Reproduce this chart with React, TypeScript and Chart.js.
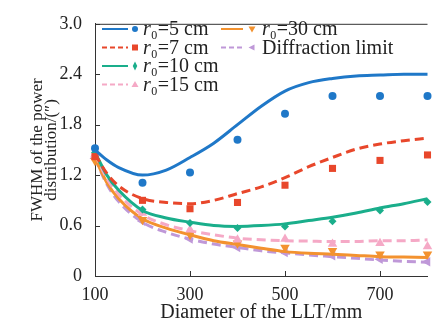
import React, { useEffect, useRef } from "react";
import { Chart, registerables } from "chart.js";

Chart.register(...registerables);

// ---- data ----
const curveX = [100, 125, 150, 200, 250, 300, 350, 400, 450, 500, 550, 600, 650, 700, 750, 800];
const curveR5 = [1.50, 1.38, 1.29, 1.20, 1.26, 1.41, 1.58, 1.80, 2.02, 2.20, 2.30, 2.35, 2.38, 2.39, 2.40, 2.40];
const curveR7 = [1.45, 1.22, 1.07, 0.92, 0.875, 0.86, 0.90, 0.98, 1.06, 1.17, 1.30, 1.41, 1.51, 1.57, 1.61, 1.64];
const curveR10 = [1.47, 1.20, 1.02, 0.78, 0.69, 0.64, 0.60, 0.59, 0.60, 0.62, 0.66, 0.70, 0.75, 0.81, 0.86, 0.92];
const curveR15 = [1.45, 1.16, 0.97, 0.73, 0.61, 0.54, 0.49, 0.45, 0.43, 0.42, 0.415, 0.41, 0.41, 0.42, 0.42, 0.43];
const curveR30 = [1.40, 1.11, 0.92, 0.68, 0.57, 0.49, 0.42, 0.375, 0.33, 0.29, 0.27, 0.26, 0.245, 0.23, 0.225, 0.22];
const curveDL = [1.40, 1.09, 0.885, 0.64, 0.52, 0.44, 0.38, 0.34, 0.30, 0.275, 0.25, 0.23, 0.21, 0.19, 0.175, 0.165];

const pointX = [100, 200, 300, 400, 500, 600, 700, 800];
const ptsR5 = [1.52, 1.11, 1.23, 1.62, 1.93, 2.14, 2.14, 2.14];
const ptsR7 = [1.42, 0.90, 0.80, 0.875, 1.08, 1.28, 1.375, 1.44];
const ptsR10 = [1.47, 0.79, 0.63, 0.57, 0.59, 0.65, 0.78, 0.88];
const ptsR15 = [1.45, 0.75, 0.55, 0.43, 0.44, 0.38, 0.39, 0.35];
const ptsR30 = [1.37, 0.67, 0.49, 0.39, 0.34, 0.30, 0.26, 0.26];
const ptsDL = [1.40, 0.65, 0.44, 0.34, 0.28, 0.24, 0.20, 0.17];

const xTicks = [100, 300, 500, 700];
const yTicks = [0, 0.6, 1.2, 1.8, 2.4, 3.0];

const xTitle = "Diameter of the LLT/mm";
const yTitle = ["FWHM of the power", "distribution/(\u2033)"];

const legendItems = [
  { r: true, text: "=5 cm" },
  { r: true, text: "=7 cm" },
  { r: true, text: "=10 cm" },
  { r: true, text: "=15 cm" },
  { r: true, text: "=30 cm" },
  { r: false, text: "Diffraction limit" },
];

const COLORS = ["#1f78c8", "#e8472b", "#1aae8b", "#f5a9c6", "#f3922f", "#bf98d8"];
const DASHED = [false, true, false, true, false, true];
const SHAPES = ["circle", "rect", "rectRot", "triangle", "triangle", "triangle"];
const ROTS = [0, 0, 0, 0, 180, -90];
const RADII = [4, 5, 4, 5.5, 5.5, 5.5];

const curves = [curveR5, curveR7, curveR10, curveR15, curveR30, curveDL];
const points = [ptsR5, ptsR7, ptsR10, ptsR15, ptsR30, ptsDL];

const SERIF = "'Liberation Serif', 'Times New Roman', serif";

function drawMarker(ctx: CanvasRenderingContext2D, i: number, x: number, y: number, s: number) {
  ctx.save();
  ctx.fillStyle = COLORS[i];
  ctx.beginPath();
  if (i === 0) {
    ctx.arc(x, y, s * 0.6, 0, Math.PI * 2);
  } else if (i === 1) {
    ctx.rect(x - s * 0.6, y - s * 0.6, s * 1.2, s * 1.2);
  } else if (i === 2) {
    ctx.moveTo(x, y - s * 0.9);
    ctx.lineTo(x + s * 0.45, y);
    ctx.lineTo(x, y + s * 0.9);
    ctx.lineTo(x - s * 0.45, y);
    ctx.closePath();
  } else if (i === 3) {
    ctx.moveTo(x, y - s * 0.7);
    ctx.lineTo(x + s * 0.7, y + s * 0.5);
    ctx.lineTo(x - s * 0.7, y + s * 0.5);
    ctx.closePath();
  } else if (i === 4) {
    ctx.moveTo(x, y + s * 0.7);
    ctx.lineTo(x + s * 0.7, y - s * 0.5);
    ctx.lineTo(x - s * 0.7, y - s * 0.5);
    ctx.closePath();
  } else {
    ctx.moveTo(x - s * 0.7, y);
    ctx.lineTo(x + s * 0.5, y - s * 0.6);
    ctx.lineTo(x + s * 0.5, y + s * 0.6);
    ctx.closePath();
  }
  ctx.fill();
  ctx.restore();
}

const decorPlugin = {
  id: "decor",
  afterDraw(chart: any) {
    const ctx: CanvasRenderingContext2D = chart.ctx;
    const { left, right, top, bottom } = chart.chartArea;
    const xs = chart.scales.x;
    const ys = chart.scales.y;
    ctx.save();
    ctx.strokeStyle = "#333";
    ctx.lineWidth = 1;
    ctx.beginPath();
    ctx.moveTo(left, top + 0.5);
    ctx.lineTo(right, top + 0.5);
    for (const v of yTicks) {
      const y = Math.round(ys.getPixelForValue(v)) + 0.5;
      ctx.moveTo(left, y);
      ctx.lineTo(left + 5, y);
    }
    for (const v of xTicks) {
      const x = Math.round(xs.getPixelForValue(v)) + 0.5;
      ctx.moveTo(x, bottom);
      ctx.lineTo(x, bottom - 5);
    }
    ctx.stroke();

    const rowsY = [29, 47.5, 66, 84.5];
    const cols = [
      { lx0: 102, lx1: 128, mx: 135, tx: 143 },
      { lx0: 221, lx1: 243, mx: 252, tx: 262 },
    ];
    legendItems.forEach((item, i) => {
      const col = cols[i < 4 ? 0 : 1];
      const y = rowsY[i < 4 ? i : i - 4];
      ctx.save();
      ctx.strokeStyle = COLORS[i];
      ctx.lineWidth = 2;
      ctx.setLineDash(DASHED[i] ? [5, 3] : []);
      ctx.beginPath();
      ctx.moveTo(col.lx0, y);
      ctx.lineTo(col.lx1, y);
      ctx.stroke();
      ctx.restore();
      drawMarker(ctx, i, col.mx, y, 5);
      ctx.fillStyle = "#222";
      ctx.textBaseline = "alphabetic";
      ctx.textAlign = "left";
      let x = col.tx;
      const base = y + 6;
      if (item.r) {
        ctx.font = `italic 20px ${SERIF}`;
        ctx.fillText("r", x, base);
        x += ctx.measureText("r").width + 0.5;
        ctx.font = `12px ${SERIF}`;
        ctx.fillText("0", x, base + 4);
        x += ctx.measureText("0").width + 0.5;
      }
      ctx.font = `20px ${SERIF}`;
      ctx.fillText(item.text, x, base);
    });
    ctx.restore();
  },
};

export default function App() {
  const ref = useRef<HTMLCanvasElement | null>(null);
  useEffect(() => {
    if (!ref.current) return;
    const datasets: any[] = [];
    for (let i = 0; i < 6; i++) {
      datasets.push({
        type: "line",
        data: curveX.map((x, k) => ({ x, y: curves[i][k] })),
        borderColor: COLORS[i],
        borderWidth: 3,
        borderDash: DASHED[i] ? [9, 5] : [],
        pointRadius: 0,
        fill: false,
        cubicInterpolationMode: "monotone",
        clip: false,
        order: i,
      });
      datasets.push({
        type: "scatter",
        data: pointX.map((x, k) => ({ x, y: points[i][k] })),
        backgroundColor: COLORS[i],
        borderColor: COLORS[i],
        borderWidth: 0,
        pointStyle: SHAPES[i],
        rotation: ROTS[i],
        pointRadius: RADII[i],
        showLine: false,
        clip: false,
        order: i,
      });
    }
    const chart = new Chart(ref.current, {
      type: "scatter",
      data: { datasets },
      options: {
        responsive: false,
        animation: false,
        devicePixelRatio: 1,
        layout: { padding: { top: 12, right: 0, left: 0, bottom: 0 } },
        plugins: { legend: { display: false }, tooltip: { enabled: false } },
        scales: {
          x: {
            type: "linear",
            min: 100,
            max: 800,
            grid: { display: false, drawTicks: false },
            border: { display: true, color: "#333", width: 1 },
            afterBuildTicks: (s: any) => {
              s.ticks = xTicks.map((v) => ({ value: v }));
            },
            afterFit: (s: any) => {
              s.height = 55;
            },
            ticks: {
              color: "#222",
              padding: 8,
              maxRotation: 0,
              font: { family: SERIF, size: 18 },
              callback: (v: any) => String(v),
            },
            title: {
              display: true,
              text: xTitle,
              color: "#222",
              font: { family: SERIF, size: 20, lineHeight: 1 },
              padding: { top: 0, bottom: 8 },
            },
          },
          y: {
            type: "linear",
            min: 0,
            max: 3,
            grid: { display: false, drawTicks: false },
            border: { display: true, color: "#333", width: 1 },
            afterBuildTicks: (s: any) => {
              s.ticks = yTicks.map((v) => ({ value: v }));
            },
            afterFit: (s: any) => {
              s.width = 95;
            },
            ticks: {
              color: "#222",
              padding: 13,
              font: { family: SERIF, size: 18 },
              callback: (v: any) => (v === 0 ? "0" : Number(v).toFixed(1)),
            },
            title: {
              display: true,
              text: yTitle,
              color: "#222",
              font: { family: SERIF, size: 17, lineHeight: 0.86 },
              padding: { top: 30, bottom: 0 },
            },
          },
        },
      },
      plugins: [decorPlugin],
    } as any);
    return () => chart.destroy();
  }, []);
  return (
    <div style={{ position: "absolute", left: 0, top: 0, width: 433, height: 331, background: "#fff" }}>
      <canvas ref={ref} width={433} height={331} />
    </div>
  );
}
